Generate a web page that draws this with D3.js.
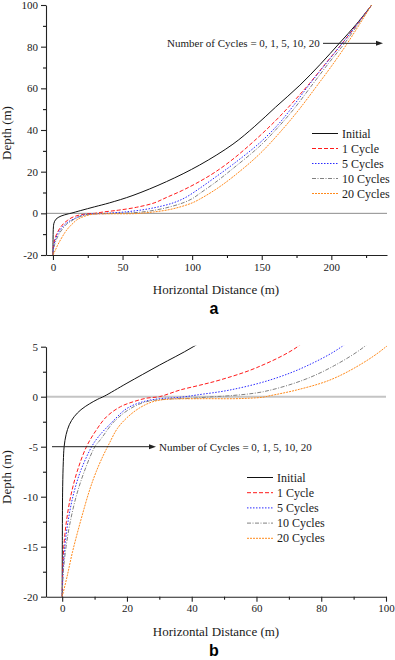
<!DOCTYPE html>
<html>
<head>
<meta charset="utf-8">
<script src="https://cdn.jsdelivr.net/npm/d3@7"></script>
<style>
	body { margin: 0; background: #fff; }
	svg { display: block; background: #fff; }
</style>
</head>
<body>
<svg id="chart" width="395" height="660"></svg>
<script>

const SERIF = "'Liberation Serif', 'DejaVu Serif', 'Times New Roman', serif";

// series labels
const seriesNames = ["Initial", "1 Cycle", "5 Cycles", "10 Cycles", "20 Cycles"];

// [horizontal distance (m), depth (m)]
const initial = [
	[0,-20],[0.05,-14],[0.15,-9],[0.35,-6.5],[0.6,-5],[1.2,-3.8],[2.2,-2.8],[3.7,-2],
	[5.8,-1.3],[8.5,-0.7],[11,-0.25],[13,0.05],[20,1.35],[30,3.15],[40.5,5],[57.5,8.6],
	[81.5,15.2],[105.4,23.2],[129.3,33.2],[145,41.8],[160,51],[177.4,61.5],[192,71.5],
	[206,81.8],[218,90.8],[229,100]
];
const cycle1 = [
	[0,-20],[0.15,-17.5],[0.5,-15],[1.3,-12.5],[2.6,-10],[4.6,-7.5],[7.5,-5],[10.6,-3.3],
	[13.7,-2],[18,-1],[22,-0.5],[26,-0.15],[30,0],[33,0.3],[36.4,0.67],[42.5,1.15],
	[48.7,1.67],[60,2.9],[72.7,5],[81.5,7.6],[93,11],[105.4,15.3],[117,20],[129.3,26],
	[145,35],[160,44.5],[172,53],[184.4,62.4],[197,72.8],[208.3,82],[219,91.2],[229,100]
];
const cycle5 = [
	[0,-20],[0.25,-17.5],[0.8,-15],[1.8,-12.5],[3.3,-10],[5.6,-7.5],[9.1,-5],[11.2,-4],
	[15,-2.67],[20,-1.17],[25,-0.5],[30,-0.2],[34,-0.12],[38,0],[41.5,0.17],[51.8,0.67],
	[64.2,1.67],[75,3],[86.3,5],[95,7.5],[105.4,12],[117,17.5],[129.3,23.5],[148.5,33.8],
	[161.6,42.5],[172,51],[184.4,62],[197,72.6],[208.3,82],[219,91.2],[229,100]
];
const cycle10 = [
	[0,-20],[0.35,-17.5],[1.2,-15],[2.5,-12.5],[4.3,-10],[6.8,-7.5],[10.1,-5],[11.8,-4.3],
	[16,-2.5],[21,-1.2],[26,-0.5],[32,-0.25],[40,-0.15],[46.7,0],[51.8,0.1],[62.1,0.5],
	[74.5,1.67],[84,3.1],[93.3,5],[100,7],[105.4,9.5],[117,15],[129.3,21.5],[148.5,32.2],
	[162,41.5],[173,50],[185.5,61],[198,72],[209.5,81.6],[219.5,91],[229,100]
];
const cycle20 = [
	[0,-20],[1.5,-18],[3.2,-15.5],[5.8,-12.3],[8.5,-9.3],[10.5,-7.5],[12.5,-6],[14.5,-4.7],
	[17,-3.2],[20,-2.1],[24,-1.1],[28,-0.5],[32,-0.27],[42.5,-0.2],[52.8,-0.2],[58,-0.15],
	[62,-0.05],[64.2,0.1],[72.4,0.67],[82.7,1.67],[92,3.2],[100,5],[105.4,6.8],[117,11.5],
	[129.3,17.5],[148.5,28.5],[165.2,40.5],[177,50],[189.2,60.8],[200.5,71],[211.5,81.6],
	[220.5,91],[229,100]
];
const allSeries = [initial, cycle1, cycle5, cycle10, cycle20];

// tick values
const xTicksA = [0, 50, 100, 150, 200];
const yTicksA = [-20, 0, 20, 40, 60, 80, 100];
const xTicksB = [0, 20, 40, 60, 80, 100];
const yTicksB = [-20, -15, -10, -5, 0, 5];

const annotation = "Number of Cycles = 0, 1, 5, 10, 20";

// line styles per series
const styles = [
	{ color: "#111", dash: null },
	{ color: "#ff1a1a", dash: "4,2" },
	{ color: "#2a2aff", dash: "1.5,1.5" },
	{ color: "#808080", dash: "4,1.5,1,1.5" },
	{ color: "#ff8a1c", dash: "2,1" }
];

const $svg = d3.select("#chart").attr("font-family", SERIF);

const drawPanel = (cfg) => {
	const x = d3.scaleLinear().domain(cfg.xDomain).range([46, cfg.right]);
	const y = d3.scaleLinear().domain(cfg.yDomain).range([cfg.bottom, cfg.top]);
	const $g = $svg.append("g");

	$g.append("clipPath").attr("id", cfg.id)
		.append("rect")
		.attr("x", x.range()[0]).attr("y", cfg.top - 1)
		.attr("width", x.range()[1] - x.range()[0] + 1)
		.attr("height", cfg.bottom - cfg.top + 1);

	// zero line
	$g.append("line")
		.attr("x1", x(cfg.xDomain[0])).attr("x2", x(cfg.xDomain[1]))
		.attr("y1", y(0)).attr("y2", y(0))
		.attr("stroke", cfg.zeroColor).attr("stroke-width", cfg.zeroWidth);

	// curves
	const line = d3.line()
		.x((d) => x(d[0]))
		.y((d) => y(d[1]))
		.curve(d3.curveCatmullRom.alpha(0.5));

	$g.append("g").attr("clip-path", `url(#${cfg.id})`)
		.selectAll("path")
		.data(allSeries)
		.join("path")
		.attr("d", line)
		.attr("fill", "none")
		.attr("stroke", (d, i) => styles[i].color)
		.attr("stroke-width", 1)
		.attr("stroke-dasharray", (d, i) => styles[i].dash);

	// minor ticks
	$g.append("g")
		.attr("transform", `translate(0,${cfg.bottom})`)
		.call(d3.axisBottom(x).tickValues(cfg.xMinor).tickSize(3).tickFormat(""))
		.call((a) => a.select(".domain").remove());
	$g.append("g")
		.attr("transform", `translate(46,0)`)
		.call(d3.axisLeft(y).tickValues(cfg.yMinor).tickSize(3).tickFormat(""))
		.call((a) => a.select(".domain").remove());

	// major axes
	const $xa = $g.append("g")
		.attr("transform", `translate(0,${cfg.bottom})`)
		.call(d3.axisBottom(x).tickValues(cfg.xTicks).tickSize(5).tickSizeOuter(0)
			.tickPadding(3).tickFormat(String));
	const $ya = $g.append("g")
		.attr("transform", `translate(46,0)`)
		.call(d3.axisLeft(y).tickValues(cfg.yTicks).tickSize(5).tickSizeOuter(0)
			.tickPadding(3).tickFormat(String));
	[$xa, $ya].forEach(($a) => {
		$a.attr("font-family", SERIF).attr("font-size", 11);
		$a.selectAll("text").attr("fill", "#1a1a1a");
		$a.selectAll("line,path").attr("stroke", "#222").attr("stroke-width", 1.1);
	});

	// axis titles
	$g.append("text")
		.attr("x", 216).attr("y", cfg.bottom + 39)
		.attr("text-anchor", "middle").attr("font-size", 13).attr("fill", "#1a1a1a")
		.text("Horizontal Distance (m)");
	$g.append("text")
		.attr("transform", `translate(11,${cfg.titleY}) rotate(-90)`)
		.attr("text-anchor", "middle").attr("font-size", 13).attr("fill", "#1a1a1a")
		.text("Depth (m)");
	$g.append("text")
		.attr("x", 214).attr("y", cfg.bottom + 59)
		.attr("text-anchor", "middle").attr("font-size", 16)
		.attr("font-family", "'Liberation Sans', Arial, sans-serif").attr("font-weight", "bold")
		.text(cfg.letter);

	// annotation arrow
	const ay = y(cfg.arrow.y);
	$g.append("line")
		.attr("x1", cfg.arrow.x1).attr("x2", cfg.arrow.x2 - 5)
		.attr("y1", ay).attr("y2", ay)
		.attr("stroke", "#222").attr("stroke-width", 1);
	$g.append("path")
		.attr("d", `M${cfg.arrow.x2},${ay}l-7,-2.5v5z`)
		.attr("fill", "#222");
	$g.append("text")
		.attr("x", cfg.arrow.textX).attr("y", ay + 4)
		.attr("font-size", 11).attr("fill", "#1a1a1a")
		.text(annotation);

	// legend
	const $leg = $g.append("g")
		.selectAll("g")
		.data(seriesNames)
		.join("g")
		.attr("transform", (d, i) => `translate(${cfg.legend.x},${cfg.legend.y + i * cfg.legend.step})`);
	$leg.append("line")
		.attr("x1", 0).attr("x2", 26)
		.attr("stroke", (d, i) => styles[i].color)
		.attr("stroke-width", 1)
		.attr("stroke-dasharray", (d, i) => styles[i].dash);
	$leg.append("text")
		.attr("x", 30).attr("y", 4)
		.attr("font-size", 12).attr("fill", "#1a1a1a")
		.text((d) => d);
};

drawPanel({
	id: "clipA", letter: "a",
	xDomain: [-5, 240], yDomain: [-20, 100],
	right: 387, top: 5, bottom: 255,
	xTicks: xTicksA, yTicks: yTicksA,
	xMinor: d3.range(25, 240, 50), yMinor: d3.range(-10, 100, 20),
	zeroColor: "#8c8c8c", zeroWidth: 1,
	titleY: 133,
	arrow: { y: 81.6, x1: 323, x2: 383, textX: 167 },
	legend: { x: 312, y: 133.5, step: 15 }
});

drawPanel({
	id: "clipB", letter: "b",
	xDomain: [-5, 100], yDomain: [-20, 5],
	right: 386, top: 346.7, bottom: 596.7,
	xTicks: xTicksB, yTicks: yTicksB,
	xMinor: d3.range(10, 100, 20), yMinor: d3.range(-17.5, 5, 5),
	zeroColor: "#c4c4c4", zeroWidth: 2,
	titleY: 477,
	arrow: { y: -5, x1: 52, x2: 156, textX: 159 },
	legend: { x: 247, y: 477.5, step: 15.2 }
});

</script>
</body>
</html>
